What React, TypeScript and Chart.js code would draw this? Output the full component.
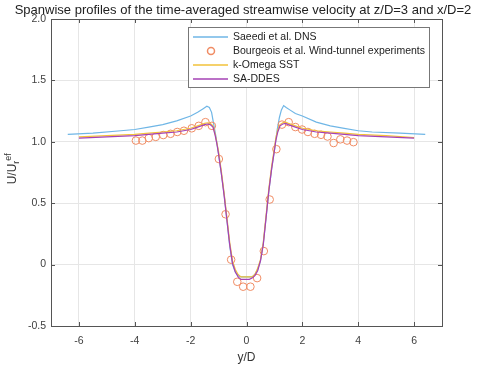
import React, { useEffect, useRef } from "react";
import { Chart, registerables } from "chart.js";

Chart.register(...registerables);

const titleText = "Spanwise profiles of the time-averaged streamwise velocity at z/D=3 and x/D=2";
const xTicks = [-6, -4, -2, 0, 2, 4, 6];
const yTicks = [-0.5, 0, 0.5, 1, 1.5, 2];

const seriesNames = ["Saeedi et al. DNS", "Bourgeois et al. Wind-tunnel experiments", "k-Omega SST", "SA-DDES"];

const dnsX = [-6.4, -5.5, -4.5, -4, -3.5, -3, -2.5, -2, -1.75, -1.55, -1.42, -1.33, -1.25, -1.18, -1.1, -1, -0.9, -0.8, -0.7, -0.6, -0.5, -0.4, -0.3, -0.2, -0.1, 0, 0.1, 0.2, 0.3, 0.4, 0.5, 0.6, 0.7, 0.8, 0.9, 1, 1.1, 1.18, 1.25, 1.33, 1.42, 1.55, 1.75, 2, 2.5, 3, 3.5, 4, 4.5, 5.5, 6.4];
const dnsY = [1.06, 1.07, 1.09, 1.1, 1.12, 1.14, 1.17, 1.21, 1.24, 1.27, 1.29, 1.28, 1.24, 1.15, 1.05, 0.9, 0.74, 0.57, 0.36, 0.15, 0.0, -0.06, -0.09, -0.1, -0.1, -0.1, -0.1, -0.1, -0.08, -0.04, 0.03, 0.17, 0.38, 0.6, 0.78, 0.93, 1.1, 1.2, 1.26, 1.295, 1.28, 1.26, 1.23, 1.21, 1.16, 1.13, 1.11, 1.09, 1.08, 1.07, 1.06];

const expX = [-3.96, -3.73, -3.5, -3.25, -2.98, -2.72, -2.48, -2.24, -1.96, -1.71, -1.47, -1.24, -0.99, -0.75, -0.55, -0.33, -0.12, 0.14, 0.38, 0.62, 0.83, 1.07, 1.27, 1.51, 1.75, 1.99, 2.2, 2.44, 2.67, 2.9, 3.12, 3.36, 3.6, 3.83];
const expY = [1.01, 1.01, 1.03, 1.04, 1.055, 1.065, 1.08, 1.09, 1.11, 1.13, 1.16, 1.13, 0.86, 0.41, 0.04, -0.14, -0.18, -0.18, -0.11, 0.11, 0.53, 0.94, 1.14, 1.16, 1.12, 1.1, 1.08, 1.065, 1.057, 1.043, 0.99, 1.02, 1.01, 0.997];

const komX = [-6, -5, -4, -3.5, -3, -2.5, -2, -1.75, -1.5, -1.4, -1.3, -1.2, -1.12, -1.05, -1, -0.9, -0.8, -0.7, -0.6, -0.5, -0.4, -0.3, -0.2, -0.1, 0, 0.1, 0.2, 0.3, 0.4, 0.5, 0.6, 0.7, 0.8, 0.9, 1, 1.05, 1.12, 1.2, 1.3, 1.4, 1.5, 1.75, 2, 2.5, 3, 3.5, 4, 5, 6];
const komY = [1.04, 1.05, 1.06, 1.07, 1.08, 1.09, 1.11, 1.13, 1.15, 1.155, 1.15, 1.13, 1.06, 0.98, 0.92, 0.76, 0.58, 0.38, 0.18, 0.03, -0.04, -0.08, -0.1, -0.1, -0.1, -0.1, -0.1, -0.08, -0.03, 0.04, 0.18, 0.4, 0.62, 0.8, 0.95, 1.03, 1.1, 1.14, 1.155, 1.16, 1.15, 1.13, 1.11, 1.09, 1.08, 1.07, 1.06, 1.05, 1.035];

const saX = [-6, -5, -4, -3.5, -3, -2.5, -2, -1.75, -1.5, -1.4, -1.3, -1.2, -1.12, -1.05, -1, -0.9, -0.8, -0.7, -0.6, -0.5, -0.4, -0.3, -0.2, -0.1, 0, 0.1, 0.2, 0.3, 0.4, 0.5, 0.6, 0.7, 0.8, 0.9, 1, 1.05, 1.12, 1.2, 1.3, 1.4, 1.5, 1.75, 2, 2.5, 3, 3.5, 4, 5, 6];
const saY = [1.03, 1.04, 1.05, 1.06, 1.07, 1.08, 1.1, 1.12, 1.14, 1.145, 1.14, 1.12, 1.05, 0.97, 0.9, 0.74, 0.56, 0.36, 0.16, 0.01, -0.06, -0.1, -0.12, -0.12, -0.12, -0.12, -0.11, -0.09, -0.05, 0.03, 0.16, 0.38, 0.6, 0.78, 0.93, 1.01, 1.08, 1.13, 1.145, 1.15, 1.14, 1.12, 1.1, 1.08, 1.07, 1.06, 1.05, 1.04, 1.03];

const colors = ["#6fb6e6", "#f08c64", "#f2c23a", "#a542b5"];

const zip = (xs: number[], ys: number[]) => xs.map((x, i) => ({ x, y: ys[i] }));

const FONT = "'Liberation Sans', Arial, sans-serif";

const decorPlugin = {
  id: "decor",
  afterDraw(chart: any) {
    const ctx = chart.ctx;
    const a = chart.chartArea;
    const xs = chart.scales.x;
    const ys = chart.scales.y;
    ctx.save();
    ctx.setLineDash([]);
    // box
    ctx.strokeStyle = "#555";
    ctx.lineWidth = 1;
    ctx.strokeRect(Math.round(a.left) + 0.5, Math.round(a.top) + 0.5, Math.round(a.right - a.left), Math.round(a.bottom - a.top));
    // inward ticks
    ctx.beginPath();
    xTicks.forEach((t) => {
      const px = Math.round(xs.getPixelForValue(t)) + 0.5;
      ctx.moveTo(px, a.bottom);
      ctx.lineTo(px, a.bottom - 4);
      ctx.moveTo(px, a.top);
      ctx.lineTo(px, a.top + 4);
    });
    yTicks.forEach((t) => {
      const py = Math.round(ys.getPixelForValue(t)) + 0.5;
      ctx.moveTo(a.left, py);
      ctx.lineTo(a.left + 4, py);
      ctx.moveTo(a.right, py);
      ctx.lineTo(a.right - 4, py);
    });
    ctx.stroke();

    // title
    ctx.fillStyle = "#222";
    ctx.font = `13px ${FONT}`;
    ctx.textAlign = "center";
    ctx.textBaseline = "middle";
    ctx.fillText(titleText, 243, 10);

    // x axis title
    ctx.font = `12px ${FONT}`;
    ctx.fillStyle = "#333";
    ctx.fillText("y/D", (a.left + a.right) / 2, 358);

    // y axis title
    ctx.save();
    ctx.translate(12, 168);
    ctx.rotate(-Math.PI / 2);
    ctx.textAlign = "left";
    ctx.textBaseline = "alphabetic";
    ctx.font = `12px ${FONT}`;
    const w1 = ctx.measureText("U/U").width;
    const total = w1 + 12;
    const x0 = -total / 2;
    ctx.fillText("U/U", x0, 4);
    ctx.font = `9px ${FONT}`;
    ctx.fillText("r", x0 + w1, 7);
    const wr = ctx.measureText("r").width;
    ctx.fillText("ef", x0 + w1 + wr, -1);
    ctx.restore();

    // legend
    const L = 188, T = 27, R = 429, B = 87;
    ctx.fillStyle = "#fff";
    ctx.fillRect(L, T, R - L, B - T);
    ctx.strokeStyle = "#777";
    ctx.lineWidth = 1;
    ctx.strokeRect(L + 0.5, T + 0.5, R - L, B - T);
    ctx.font = `10.5px ${FONT}`;
    ctx.textAlign = "left";
    ctx.textBaseline = "middle";
    const rows = [37, 51, 65, 79];
    seriesNames.forEach((name, i) => {
      const y = rows[i];
      ctx.strokeStyle = colors[i];
      ctx.lineWidth = 1.5;
      ctx.beginPath();
      if (i === 1) {
        ctx.arc(211, y, 3.5, 0, Math.PI * 2);
      } else {
        ctx.moveTo(193, y);
        ctx.lineTo(228, y);
      }
      ctx.stroke();
      ctx.fillStyle = "#222";
      ctx.fillText(name, 233, y);
    });
    ctx.restore();
  },
};

export default function App() {
  const ref = useRef<HTMLCanvasElement>(null);
  useEffect(() => {
    document.body.style.margin = "0";
    const c = ref.current!;
    const chart = new Chart(c, {
      type: "scatter",
      data: {
        datasets: [
          { label: seriesNames[0], data: zip(dnsX, dnsY), showLine: true, borderColor: colors[0], borderWidth: 1.2, pointRadius: 0, order: 4, tension: 0 },
          { label: seriesNames[1], data: zip(expX, expY), showLine: false, borderColor: colors[1], backgroundColor: "rgba(0,0,0,0)", borderWidth: 1, pointRadius: 3.8, pointStyle: "circle", order: 3 },
          { label: seriesNames[2], data: zip(komX, komY), showLine: true, borderColor: colors[2], borderWidth: 1.2, pointRadius: 0, order: 2 },
          { label: seriesNames[3], data: zip(saX, saY), showLine: true, borderColor: colors[3], borderWidth: 1.2, pointRadius: 0, order: 1 },
        ],
      },
      options: {
        animation: false,
        responsive: false,
        layout: { padding: { top: 19, right: 38, left: 0, bottom: 0 } },
        plugins: { legend: { display: false }, tooltip: { enabled: false }, title: { display: false } },
        scales: {
          x: {
            type: "linear",
            min: -7,
            max: 7,
            afterBuildTicks: (s: any) => { s.ticks = xTicks.map((v) => ({ value: v })); },
            afterFit: (s: any) => { s.height = 40; },
            grid: { color: "#e6e6e6", drawTicks: false },
            border: { display: false },
            ticks: { padding: 9, color: "#404040", font: { family: FONT, size: 10.5 }, maxRotation: 0 },
          },
          y: {
            type: "linear",
            min: -0.5,
            max: 2,
            afterBuildTicks: (s: any) => { s.ticks = yTicks.map((v) => ({ value: v })); },
            afterFit: (s: any) => { s.width = 51; },
            grid: { color: "#e6e6e6", drawTicks: false },
            border: { display: false },
            ticks: { padding: 5, color: "#404040", font: { family: FONT, size: 10.5 } },
          },
        },
      },
      plugins: [decorPlugin],
    });
    return () => chart.destroy();
  }, []);
  return <canvas ref={ref} width={480} height={366} style={{ display: "block" }} />;
}
